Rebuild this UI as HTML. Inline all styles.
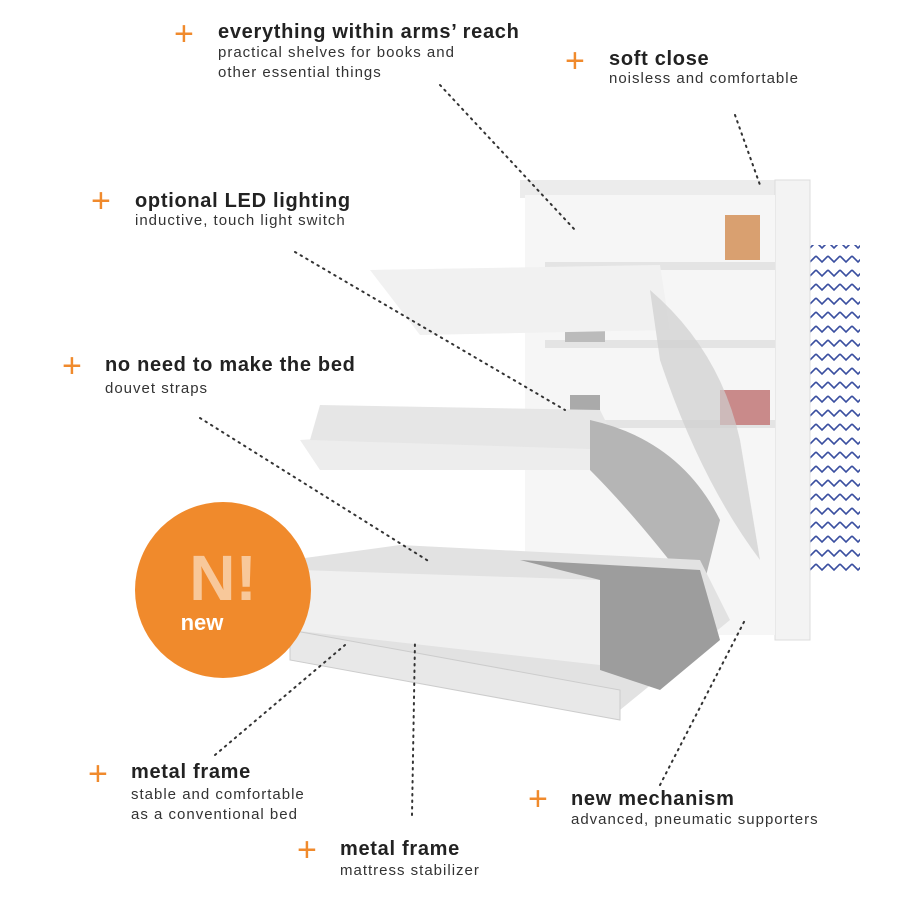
<!DOCTYPE html>
<html><head><meta charset="utf-8"><style>
body{margin:0;width:900px;height:900px;background:#fff;position:relative;overflow:hidden;font-family:"Liberation Sans",sans-serif;color:#222}
.l{position:absolute;white-space:nowrap}
.t{font-weight:bold;font-size:20px;line-height:22px;letter-spacing:.7px}
.s{font-size:15px;line-height:20px;color:#333;letter-spacing:1px}
.p{position:absolute;color:#f08a2c;font-size:34px;line-height:30px;font-weight:300}
</style></head><body>
<svg width="900" height="900" style="position:absolute;left:0;top:0">
<defs><pattern id="z" width="12" height="14" patternUnits="userSpaceOnUse"><path d="M0 4 L6 10 L12 4" fill="none" stroke="#3a4fa0" stroke-width="1.6"/></pattern></defs>
<rect x="810" y="245" width="50" height="330" fill="url(#z)"/>
<rect x="520" y="180" width="290" height="18" fill="#ececec"/>
<rect x="775" y="180" width="35" height="460" fill="#f3f3f3" stroke="#ddd"/>
<rect x="525" y="195" width="250" height="440" fill="#f6f6f6"/>
<rect x="545" y="262" width="230" height="8" fill="#e4e4e4"/>
<rect x="545" y="340" width="230" height="8" fill="#e4e4e4"/>
<rect x="545" y="420" width="230" height="8" fill="#e4e4e4"/>
<rect x="725" y="215" width="35" height="45" fill="#d9a070"/>
<rect x="720" y="390" width="50" height="35" fill="#c98a8a"/>
<rect x="565" y="320" width="40" height="22" fill="#bbb"/>
<rect x="570" y="395" width="30" height="25" fill="#aaa"/>
<polygon points="370,270 660,265 670,330 420,335" fill="#f1f1f1"/>
<polygon points="300,440 600,420 610,470 320,470" fill="#ededed"/>
<polygon points="320,405 600,410 620,450 310,440" fill="#e6e6e6"/>
<path d="M590 420 Q680 440 720 520 L700 600 Q640 520 590 470Z" fill="#b5b5b5"/>
<path d="M650 290 Q720 350 740 440 L760 560 Q700 480 660 360Z" fill="#cfcfcf" opacity=".7"/>
<polygon points="290,560 400,545 700,560 730,620 620,710 290,640" fill="#e2e2e2"/>
<polygon points="300,570 600,580 600,665 290,630" fill="#f0f0f0"/>
<polygon points="520,560 700,570 720,640 660,690 600,670 600,580" fill="#9d9d9d"/>
<polygon points="290,630 620,690 620,720 290,660" fill="#e8e8e8" stroke="#ccc"/>
<g fill="none" stroke="#333" stroke-width="2" stroke-dasharray="1.5 5" stroke-linecap="round">
<line x1="440" y1="85" x2="575" y2="230"/>
<line x1="735" y1="115" x2="760" y2="185"/>
<line x1="295" y1="252" x2="565" y2="410"/>
<line x1="200" y1="418" x2="430" y2="562"/>
<line x1="215" y1="755" x2="345" y2="645"/>
<line x1="412" y1="815" x2="415" y2="640"/>
<line x1="660" y1="785" x2="745" y2="620"/>
</g>
<circle cx="223" cy="590" r="88" fill="#f08a2c"/>
<text x="223" y="600" text-anchor="middle" font-family="Liberation Sans" font-weight="bold" font-size="64" fill="#f8c89a">N!</text>
<text x="202" y="630" text-anchor="middle" font-family="Liberation Sans" font-weight="bold" font-size="22" fill="#fff">new</text>
</svg>
<div class="p" style="left:174px;top:19px">+</div>
<div class="l t" style="left:218px;top:21px">everything within arms’ reach</div>
<div class="l s" style="left:218px;top:43px">practical shelves for books and<br>other essential things</div>
<div class="p" style="left:565px;top:46px">+</div>
<div class="l t" style="left:609px;top:48px">soft close</div>
<div class="l s" style="left:609px;top:69px">noisless and comfortable</div>
<div class="p" style="left:91px;top:186px">+</div>
<div class="l t" style="left:135px;top:190px">optional LED lighting</div>
<div class="l s" style="left:135px;top:211px">inductive, touch light switch</div>
<div class="p" style="left:62px;top:351px">+</div>
<div class="l t" style="left:105px;top:354px">no need to make the bed</div>
<div class="l s" style="left:105px;top:379px">douvet straps</div>
<div class="p" style="left:88px;top:759px">+</div>
<div class="l t" style="left:131px;top:761px">metal frame</div>
<div class="l s" style="left:131px;top:785px">stable and comfortable<br>as a conventional bed</div>
<div class="p" style="left:297px;top:835px">+</div>
<div class="l t" style="left:340px;top:838px">metal frame</div>
<div class="l s" style="left:340px;top:861px">mattress stabilizer</div>
<div class="p" style="left:528px;top:784px">+</div>
<div class="l t" style="left:571px;top:788px">new mechanism</div>
<div class="l s" style="left:571px;top:810px">advanced, pneumatic supporters</div>
</body></html>
